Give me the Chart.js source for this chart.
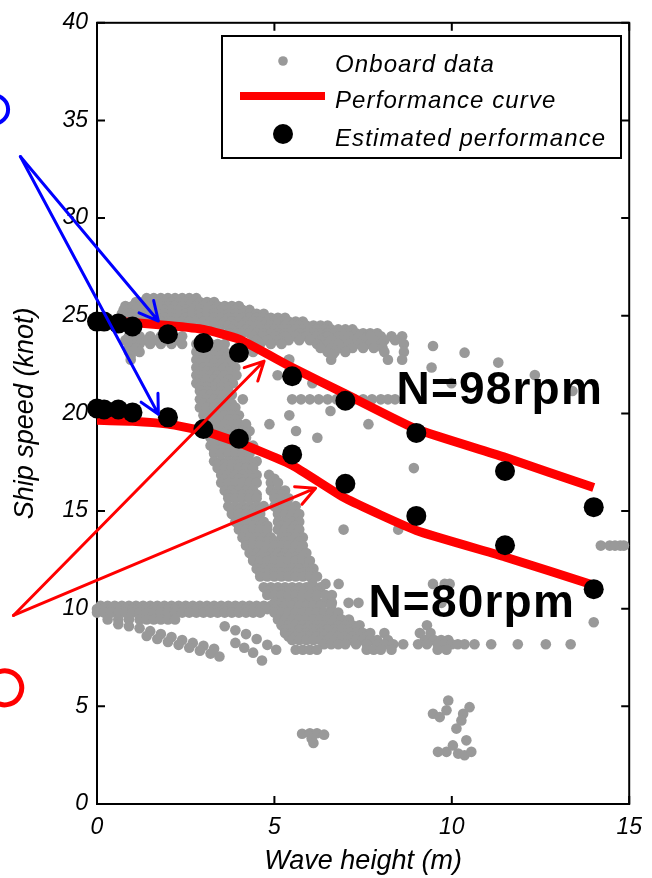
<!DOCTYPE html>
<html><head><meta charset="utf-8">
<script src="https://cdn.jsdelivr.net/npm/chart.js@4/dist/chart.umd.min.js"></script>
<style>html,body{margin:0;padding:0;background:#fff;}canvas{display:block;}</style>
</head><body>
<canvas id="c" width="652" height="878"></canvas>
<script>
// ---------- data ----------
const xTicks = [0, 5, 10, 15];
const yTicks = [0, 5, 10, 15, 20, 25, 30, 35, 40];

const estWave = [0, 0.2, 0.6, 1.0, 2, 3, 4, 5.5, 7, 9, 11.5, 14];
const est98 = [24.7, 24.7, 24.6, 24.45, 24.05, 23.6, 23.1, 21.9, 20.65, 19.0, 17.05, 15.2];
const est80 = [20.25, 20.2, 20.2, 20.05, 19.8, 19.2, 18.7, 17.9, 16.4, 14.75, 13.25, 11.0];

const curveWave = [0, 1, 2, 3, 4, 5.5, 7, 9, 11.5, 14];
const curve98 = [24.8, 24.65, 24.5, 24.3, 23.8, 22.35, 21.0, 19.2, 17.75, 16.2];
const curve80 = [19.65, 19.6, 19.45, 19.1, 18.5, 17.35, 15.65, 14.0, 12.65, 11.2];

// onboard measurements, read row by row: [speed, [wave heights...]]
const onboardRows = [
 [25.9, [1.4,1.6,1.8,2.0,2.2,2.4,2.6,2.8]],
 [25.7, [1.1,1.3,1.5,1.7,1.9,2.1,2.3,2.5,2.7,2.9,3.1,3.3]],
 [25.5, [0.8,1.0,1.2,1.4,1.6,1.8,2.0,2.2,2.4,2.6,2.8,3.0,3.2,3.4,3.6,3.8,4.0]],
 [25.3, [0.75,0.9,1.1,1.3,1.5,1.7,1.9,2.1,2.3,2.5,2.7,2.9,3.1,3.3,3.5,3.7,3.9,4.1,4.3]],
 [25.1, [0.7,0.9,1.1,1.3,1.5,1.7,1.9,2.1,2.3,2.5,2.7,2.9,3.1,3.3,3.5,3.7,3.9,4.1,4.3,4.5,4.7]],
 [24.9, [0.9,1.1,1.3,1.5,1.7,1.9,2.1,2.3,2.5,2.7,2.9,3.1,3.3,3.5,3.7,3.9,4.1,4.3,4.5,4.7,4.9,5.1,5.3]],
 [24.7, [1.2,1.5,1.8,2.1,2.4,2.6,2.8,3.0,3.2,3.4,3.6,3.8,4.0,4.2,4.4,4.6,4.8,5.0,5.2,5.4,5.6,5.8]],
 [24.5, [2.5,2.7,2.9,3.1,3.3,3.5,3.7,3.9,4.1,4.3,4.5,4.7,4.9,5.1,5.3,5.5,5.7,5.9,6.1,6.3,6.5]],
 [24.3, [3.4,3.8,4.2,4.4,4.6,4.8,5.0,5.2,5.4,5.6,5.8,6.0,6.2,6.4,6.6,6.8,7.0,7.2]],
 [24.1, [3.7,3.9,4.1,4.3,4.5,4.7,4.9,5.1,5.3,5.5,5.7,5.9,6.1,6.3,6.5,6.7,6.9,7.1,7.3,7.5,7.7,7.9]],
 [23.95, [0.9,1.2,1.5,1.8,2.1,2.4,4.4,4.7,5.0,5.3,5.6,5.9,6.2,6.5,6.8,7.1,7.4,7.7,8.0,8.3,8.6]],
 [23.75, [0.8,1.1,1.4,1.7,2.0,2.3,4.5,4.8,5.1,5.4,5.7,6.0,6.3,6.6,6.9,7.2,7.5,7.8,8.1,8.4]],
 [23.55, [0.9,1.2,1.5,1.8,2.1,2.4,2.8,3.0,3.2,3.4,3.6,4.6,4.9,5.2,6.2,6.5,6.8,7.1,7.4,7.7,8.0,8.65]],
 [23.35, [0.9,1.1,2.9,3.1,3.3,3.5,6.3,6.6,6.9,7.2,7.5,7.8,8.05]],
 [23.15, [0.9,1.2,2.8,3.0,3.2,3.4,3.6,4.0,4.4,6.5,6.7,7.0,8.1,8.65]],
 [22.95, [0.95,2.9,3.1,3.3,3.5,3.7]],
 [22.75, [0.95,2.8,3.0,3.2,3.4,3.6,3.8,5.4,6.6,8.2,8.6]],
 [22.55, [2.9,3.1,3.3,3.5,3.7]],
 [22.35, [2.8,3.0,3.2,3.4,3.6,3.9,9.43]],
 [22.15, [2.9,3.1,3.3,3.5,3.7]],
 [21.95, [2.8,3.0,3.2,3.4,3.6,3.93,5.09]],
 [21.75, [2.9,3.1,3.3,3.5,3.7]],
 [21.55, [2.8,3.0,3.2,3.4,3.6,3.83,6.07,9.99]],
 [21.35, [2.9,3.1,3.3,3.5,3.7]],
 [21.15, [2.9,3.1,3.3,3.5,3.7,13.4]],
 [20.95, [3.0,3.2,3.4,3.6,3.8]],
 [20.72, [2.9,3.1,3.3,3.5,3.7,4.11,5.5,5.75,6.0,6.25,6.5,6.75,7.0,7.25,7.5,7.75,8.0,8.2,8.4]],
 [20.5, [3.0,3.2,3.4,3.6,3.8]],
 [20.3, [2.9,3.1,3.3,3.5,3.7,3.9]],
 [20.12, [6.58]],
 [19.9, [3.0,3.2,3.4,3.6,3.8,4.0,5.42]],
 [19.7, [3.1,3.3,3.5,3.7,3.9]],
 [19.45, [3.0,3.2,3.4,3.6,3.8,4.0,4.2,4.86,7.65]],
 [19.1, [3.1,3.3,3.5,3.7,3.9,4.1,4.3,5.61]],
 [18.95, [3.2,3.4,3.6,3.8,4.0,4.2]],
 [18.75, [3.2,3.4,3.6,3.8,4.0,4.2,6.21]],
 [18.35, [3.2,3.4,3.6,3.8,4.0,4.2,4.4]],
 [18.15, [3.3,3.5,3.7,3.9,4.1,4.3]],
 [17.95, [3.3,3.5,3.7,3.9,4.1,4.3]],
 [17.55, [3.3,3.5,3.7,3.9,4.1,4.3,4.5]],
 [17.4, [3.4,3.6,3.8,4.0,4.2,4.4]],
 [17.2, [3.4,3.6,3.8,4.0,4.2,4.4,8.93]],
 [16.85, [3.5,3.7,3.9,4.1,4.3,4.5,4.85]],
 [16.65, [3.6,3.8,4.0,4.2,4.4,5.0]],
 [16.45, [3.5,3.7,3.9,4.1,4.3,4.5,4.9,5.1]],
 [16.05, [3.6,3.8,4.0,4.2,4.4,4.9,5.1,5.3]],
 [15.85, [3.7,3.9,4.1,4.3,4.5,5.0,5.2]],
 [15.65, [3.7,3.9,4.1,4.3,4.5,5.0,5.2,5.4]],
 [15.25, [3.7,3.9,4.1,4.3,4.5,4.7,5.0,5.2,5.4,5.6]],
 [15.05, [3.8,4.0,4.2,4.4,4.6,5.1,5.3,5.5]],
 [14.85, [3.8,4.0,4.2,4.4,4.6,5.1,5.3,5.5,5.7]],
 [14.45, [3.9,4.1,4.3,4.5,4.7,5.1,5.3,5.5,5.7]],
 [14.25, [4.0,4.2,4.4,4.6,4.8,5.2,5.4,5.6]],
 [14.05, [4.0,4.2,4.4,4.6,4.8,5.1,5.3,5.5,5.7,6.95,8.49]],
 [13.65, [4.1,4.3,4.5,4.7,4.9,5.2,5.4,5.6,5.8]],
 [13.45, [4.2,4.4,4.6,4.8,5.0,5.3,5.5,5.7]],
 [13.23, [4.2,4.4,4.6,4.8,5.0,5.2,5.4,5.6,5.8,14.2,14.45,14.6,14.75,14.85]],
 [12.85, [4.3,4.5,4.7,4.9,5.1,5.3,5.5,5.7,5.9]],
 [12.65, [4.4,4.6,4.8,5.0,5.2,5.4,5.6,5.8]],
 [12.45, [4.4,4.6,4.8,5.0,5.2,5.4,5.6,5.8,6.0]],
 [12.05, [4.5,4.7,4.9,5.1,5.3,5.5,5.7,5.9,6.1]],
 [11.85, [4.6,4.8,5.0,5.2,5.4,5.6,5.8,6.0]],
 [11.65, [4.6,4.8,5.0,5.2,5.4,5.6,5.8,6.0,6.2]],
 [11.27, [6.07,6.44,6.81,9.47,9.8,9.94]],
 [11.1, [4.7,4.9,5.1,5.3,5.5,5.7,5.9,6.1,6.3]],
 [10.9, [4.8,5.0,5.2,5.4,5.6,5.8,6.0,6.2]],
 [10.7, [4.8,5.0,5.2,5.4,5.6,5.8,6.0,6.2,6.44,6.62]],
 [10.3, [5.0,5.2,5.4,5.6,5.8,6.0,6.2,6.4,6.62,7.09,7.37,9.71]],
 [10.15, [0.1,0.3,0.5,0.7,0.9,1.1,1.3,1.5,1.7,1.9,2.1,2.3,2.5,2.7,2.9,3.1,3.3,3.5,3.7,3.9,4.1,4.3,4.5,4.7,4.9,5.1,5.3,5.5,5.7,5.9,6.1,6.3,6.6]],
 [9.98, [0.0,0.2,0.4,0.6,0.8,1.0,1.2,1.4,1.6,1.8,2.0,2.2,2.4,2.6,2.8,3.0,3.2,3.4,3.6,3.8,4.0,4.2,4.4,4.6,4.8,5.0]],
 [9.8, [0.0,0.2,0.4,0.6,0.8,1.0,1.2,1.4,1.6,1.8,2.0,2.2,2.4,2.6,2.8,3.0,3.2,3.4,3.6,3.8,4.0,4.2,4.4,4.6,5.0,5.2,5.4,5.6,5.8,6.0,6.2,6.4,6.6,6.8]],
 [9.45, [0.3,0.6,0.9,1.2,1.4,1.6,1.8,2.0,2.2,5.1,5.3,5.5,5.7,5.9,6.1,6.3,6.5,6.7,6.9,7.1]],
 [9.15, [5.2,5.4,5.6,5.8,6.0,6.2,6.4,6.6,6.8,7.0,7.2,7.4,9.3]],
 [8.95, [5.3,5.5,5.7,5.9,6.1,6.3,6.5,6.7,6.9,7.1,7.3]],
 [8.75, [5.3,5.5,5.7,5.9,6.1,6.3,6.5,6.7,6.9,7.1,7.3,7.5,7.7,8.1,9.1,9.4]],
 [8.58, [5.4,5.6,5.8,6.0,6.2,6.4,6.6,6.8,7.0,7.2,7.4,7.6]],
 [8.4, [5.5,5.7,5.9,6.1,6.3,6.5,6.7,6.9,7.1,7.3,7.5,7.7,7.9,8.2,9.24,9.5,9.7,9.9]],
 [8.18, [6.4,6.6,6.8,7.0,7.3,7.6,7.9,8.1,8.35,8.63,9.05,9.3,9.6,9.8,10.0,10.17,10.36,10.64,11.11,11.86,12.65,13.35]],
 [7.9, [5.6,5.8,6.0,6.2,7.6,7.8,8.0,8.3,9.6,9.85]]
];
// single onboard points: [wave height, speed]
const onboardExtra = [
 [0.6,9.2],[0.9,9.1],[1.2,9.0],[1.5,8.85],[1.8,8.7],[2.1,8.55],[2.4,8.4],[2.7,8.25],[3.0,8.1],[3.3,7.95],
 [1.4,8.6],[1.7,8.45],[2.0,8.3],[2.3,8.15],[2.6,8.0],[2.9,7.85],[3.2,7.7],[3.45,7.55],
 [3.6,9.1],[3.9,8.9],[4.2,8.7],[4.5,8.45],[4.8,8.15],[5.05,7.9],
 [3.9,8.25],[4.15,8.0],[4.4,7.75],[4.65,7.35],
 [9.47,23.45],[10.36,23.11],[11.31,22.6],[12.34,21.97],[6.64,23.02],[5.42,22.76],[14.0,9.31],
 [5.78,3.6],[6.0,3.62],[6.2,3.62],[6.4,3.55],[6.05,3.35],[6.1,3.12],
 [9.9,5.3],[9.47,4.62],[9.66,4.45],[9.85,4.8],[10.32,4.62],[10.5,4.96],[10.27,4.28],[10.13,3.86],
 [10.41,3.26],[9.61,2.67],[9.85,2.67],[10.03,3.0],[10.18,2.58],[10.36,2.5],[10.55,2.67]
];

const legendLabels = ['Onboard data', 'Performance curve', 'Estimated performance'];
const rpmTexts = ['N=98rpm', 'N=80rpm'];

// ---------- annotation placement (data coordinates) ----------
const rpmAnchors = [[8.44, 20.49], [7.65, 9.55]];
const arrowDefs = [
  {from: [-2.16, 33.15], to: [1.73, 24.73], color: '#0000ff'},
  {from: [-2.16, 33.15], to: [1.73, 19.96], color: '#0000ff'},
  {from: [-2.355, 9.655], to: [4.71, 22.68], color: '#ff0000'},
  {from: [-2.355, 9.655], to: [6.16, 16.17], color: '#ff0000'}
];

const onboard = onboardRows.flatMap(([y, xs]) => xs.map(x => ({x, y})))
  .concat(onboardExtra.map(([x, y]) => ({x, y})));
const pts = (xs, ys) => xs.map((x, i) => ({x, y: ys[i]}));

const FONT = "'Liberation Sans', Arial, sans-serif";
Chart.defaults.font.family = FONT;

const decor = {
  id: 'decor',
  beforeDatasetsDraw(chart) {
    const {ctx, chartArea: {left, right, top, bottom}, scales: {x, y}} = chart;
    ctx.save();
    ctx.strokeStyle = '#000';
    ctx.lineWidth = 2;
    ctx.strokeRect(left, top, right - left, bottom - top);
    ctx.beginPath();
    xTicks.forEach(v => {
      const px = x.getPixelForValue(v);
      ctx.moveTo(px, bottom); ctx.lineTo(px, bottom - 8);
      ctx.moveTo(px, top); ctx.lineTo(px, top + 8);
    });
    yTicks.forEach(v => {
      const py = y.getPixelForValue(v);
      ctx.moveTo(left, py); ctx.lineTo(left + 8, py);
      ctx.moveTo(right, py); ctx.lineTo(right - 8, py);
    });
    ctx.stroke();
    ctx.restore();
  },
  afterDatasetsDraw(chart) {
    const {ctx, scales: {x, y}} = chart;
    const P = (p) => [x.getPixelForValue(p[0]), y.getPixelForValue(p[1])];
    ctx.save();
    // legend
    ctx.fillStyle = '#fff';
    ctx.fillRect(222, 36, 399, 122);
    ctx.strokeStyle = '#000'; ctx.lineWidth = 2;
    ctx.strokeRect(222, 36, 399, 122);
    ctx.fillStyle = '#999999';
    ctx.beginPath(); ctx.arc(283, 61, 4.8, 0, Math.PI * 2); ctx.fill();
    ctx.strokeStyle = '#ff0000'; ctx.lineWidth = 8;
    ctx.beginPath(); ctx.moveTo(240, 96); ctx.lineTo(325, 96); ctx.stroke();
    ctx.fillStyle = '#000';
    ctx.beginPath(); ctx.arc(283, 134, 10, 0, Math.PI * 2); ctx.fill();
    ctx.font = 'italic 24px ' + FONT;
    ctx.letterSpacing = '1.1px';
    ctx.textBaseline = 'alphabetic'; ctx.textAlign = 'left';
    ctx.fillText(legendLabels[0], 335, 72);
    ctx.fillText(legendLabels[1], 335, 108);
    ctx.fillText(legendLabels[2], 335, 146);
    // rpm labels
    ctx.font = 'bold 46px ' + FONT;
    ctx.letterSpacing = '1.2px';
    rpmTexts.forEach((t, i) => { const [px, py] = P(rpmAnchors[i]); ctx.fillText(t, px, py); });
    ctx.letterSpacing = '0px';
    // arrows
    arrowDefs.forEach(a => {
      const [x1, y1] = P(a.from), [x2, y2] = P(a.to);
      const ang = Math.atan2(y2 - y1, x2 - x1);
      const hl = 21, ha = 27 * Math.PI / 180;
      ctx.strokeStyle = a.color; ctx.lineWidth = 3; ctx.lineCap = 'round'; ctx.lineJoin = 'round';
      ctx.beginPath();
      ctx.moveTo(x1, y1); ctx.lineTo(x2, y2);
      ctx.moveTo(x2 - hl * Math.cos(ang - ha), y2 - hl * Math.sin(ang - ha));
      ctx.lineTo(x2, y2);
      ctx.lineTo(x2 - hl * Math.cos(ang + ha), y2 - hl * Math.sin(ang + ha));
      ctx.stroke();
    });
    // partial glyphs cut at the left edge
    const [bx, by] = P([-2.9, 35.56]);
    ctx.strokeStyle = '#0000ff'; ctx.lineWidth = 4;
    ctx.beginPath(); ctx.arc(bx, by, 14, -Math.PI / 2, Math.PI / 2); ctx.stroke();
    const [rx, ry] = P([-2.6, 5.95]);
    ctx.strokeStyle = '#ff0000'; ctx.lineWidth = 5;
    ctx.beginPath(); ctx.arc(rx, ry, 17, -1.9, 2.2); ctx.stroke();
    ctx.restore();
  }
};

const tickFont = {family: FONT, size: 23, style: 'italic'};
const titleFont = {family: FONT, size: 27, style: 'italic'};

new Chart(document.getElementById('c'), {
  type: 'scatter',
  data: {
    datasets: [
      {label: legendLabels[0], data: onboard, pointRadius: 5.3, pointBackgroundColor: '#999999',
       pointBorderWidth: 0, borderWidth: 0, order: 3, clip: false},
      {label: legendLabels[1], data: pts(curveWave, curve98), showLine: true, borderColor: '#ff0000',
       borderWidth: 9, pointRadius: 0, order: 2, borderCapStyle: 'butt', borderJoinStyle: 'round', tension: 0.15},
      {label: legendLabels[1], data: pts(curveWave, curve80), showLine: true, borderColor: '#ff0000',
       borderWidth: 9, pointRadius: 0, order: 2, borderCapStyle: 'butt', borderJoinStyle: 'round', tension: 0.15},
      {label: legendLabels[2], data: pts(estWave, est98), pointRadius: 10, pointBackgroundColor: '#000',
       pointBorderWidth: 0, borderWidth: 0, order: 1, clip: false},
      {label: legendLabels[2], data: pts(estWave, est80), pointRadius: 10, pointBackgroundColor: '#000',
       pointBorderWidth: 0, borderWidth: 0, order: 1, clip: false}
    ]
  },
  options: {
    responsive: false, animation: false, devicePixelRatio: 1,
    layout: {padding: {top: 21, right: 20, left: 0, bottom: 0}},
    plugins: {legend: {display: false}, tooltip: {enabled: false}},
    scales: {
      x: {
        type: 'linear', min: 0, max: 15,
        afterFit(s) { s.height = 74; },
        afterBuildTicks(s) { s.ticks = xTicks.map(v => ({value: v})); },
        grid: {display: false, drawTicks: false}, border: {display: false},
        ticks: {font: tickFont, color: '#000', padding: 10, maxRotation: 0, autoSkip: false},
        title: {display: true, text: 'Wave height (m)', font: titleFont, color: '#000', padding: {top: 0, bottom: 0}}
      },
      y: {
        type: 'linear', min: 0, max: 40,
        afterFit(s) { s.width = 97; },
        afterBuildTicks(s) { s.ticks = yTicks.map(v => ({value: v})); },
        grid: {display: false, drawTicks: false}, border: {display: false},
        ticks: {font: tickFont, color: '#000', padding: 9, autoSkip: false},
        title: {display: true, text: 'Ship speed (knot)', font: titleFont, color: '#000', padding: {top: 9, bottom: 0}}
      }
    }
  },
  plugins: [decor]
});
</script>
</body></html>
